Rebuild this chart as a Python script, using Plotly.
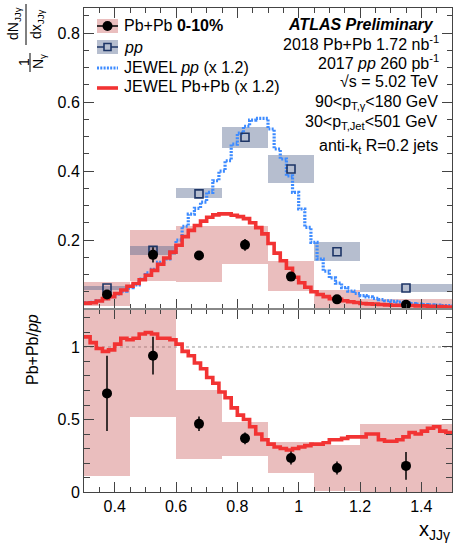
import numpy as np
import plotly.graph_objects as go
from plotly.subplots import make_subplots

# ---- measured x_JJgamma bins ----
bin_lo = [0.30, 0.45, 0.60, 0.75, 0.90, 1.05, 1.20]
bin_hi = [0.45, 0.60, 0.75, 0.90, 1.05, 1.20, 1.50]

# Pb+Pb 0-10% distribution
pbpb_val = [0.042, 0.157, 0.155, 0.186, 0.094, 0.028, 0.012]
pbpb_stat = [0.012, 0.022, 0.013, 0.017, 0.012, 0.006, 0.004]
pbpb_sys_lo = [0.010, 0.082, 0.078, 0.130, 0.052, 0.003, 0.002]
pbpb_sys_hi = [0.079, 0.230, 0.240, 0.242, 0.139, 0.055, 0.028]

# pp distribution
pp_val = [0.061, 0.170, 0.334, 0.498, 0.406, 0.166, 0.061]
pp_sys_lo = [0.055, 0.158, 0.321, 0.468, 0.365, 0.140, 0.050]
pp_sys_hi = [0.067, 0.183, 0.350, 0.527, 0.446, 0.193, 0.072]

# Pb+Pb / pp ratio
ratio_val = [0.68, 0.94, 0.47, 0.37, 0.235, 0.165, 0.18]
ratio_stat = [0.26, 0.13, 0.05, 0.04, 0.045, 0.045, 0.095]
ratio_sys_lo = [0.11, 0.52, 0.23, 0.25, 0.13, 0.01, 0.0]
ratio_sys_hi = [1.30, 1.30, 0.70, 0.485, 0.345, 0.324, 0.47]

# JEWEL predictions (x 1.2), fine binning 0.02 from 0.30 to 1.50
jewel_edges = list(np.round(np.arange(0.30, 1.5001, 0.02), 2))
jewel_pp = [0.018, 0.019, 0.024, 0.030, 0.036, 0.044, 0.052, 0.062, 0.070, 0.087,
            0.105, 0.115, 0.135, 0.145, 0.166, 0.200, 0.240, 0.275, 0.292, 0.310,
            0.338, 0.372, 0.400, 0.430, 0.478, 0.510, 0.530, 0.548, 0.553, 0.553,
            0.522, 0.464, 0.435, 0.386, 0.338, 0.290, 0.237, 0.193, 0.145, 0.110,
            0.090, 0.075, 0.062, 0.052, 0.045, 0.039, 0.035, 0.031, 0.027, 0.024,
            0.022, 0.020, 0.018, 0.016, 0.014, 0.013, 0.012, 0.011, 0.010, 0.010]
jewel_pbpb = [0.017, 0.018, 0.023, 0.030, 0.036, 0.045, 0.055, 0.066, 0.074, 0.085,
              0.098, 0.112, 0.130, 0.148, 0.165, 0.185, 0.210, 0.228, 0.242, 0.255,
              0.266, 0.273, 0.276, 0.276, 0.272, 0.268, 0.262, 0.250, 0.236, 0.218,
              0.190, 0.162, 0.140, 0.118, 0.092, 0.076, 0.063, 0.050, 0.042, 0.036,
              0.030, 0.028, 0.024, 0.021, 0.019, 0.016, 0.015, 0.014, 0.013, 0.012,
              0.011, 0.011, 0.010, 0.010, 0.009, 0.009, 0.008, 0.007, 0.007, 0.006]
jewel_ratio = [1.07, 1.03, 0.99, 0.97, 0.98, 1.02, 1.06, 1.05, 1.06, 1.09,
               1.10, 1.09, 1.06, 1.06, 1.05, 1.02, 0.97, 0.94, 0.89, 0.85,
               0.79, 0.75, 0.69, 0.65, 0.58, 0.53, 0.50, 0.45, 0.40, 0.36,
               0.33, 0.31, 0.30, 0.29, 0.30, 0.31, 0.32, 0.33, 0.33, 0.34,
               0.36, 0.36, 0.37, 0.38, 0.38, 0.38, 0.40, 0.40, 0.36, 0.35,
               0.35, 0.36, 0.38, 0.41, 0.40, 0.42, 0.44, 0.45, 0.42, 0.41]

FONT = "Liberation Sans, Arial, Helvetica, sans-serif"
PINK = "rgba(205,100,100,0.42)"
GREYBLUE = "rgba(80,100,140,0.42)"
RED = "#f23333"
BLUE = "#3d8bff"
NAVY = "#1d3566"

centers = [(a + b) / 2 for a, b in zip(bin_lo, bin_hi)]
widths = [b - a for a, b in zip(bin_lo, bin_hi)]

fig = make_subplots(rows=2, cols=1, shared_xaxes=True, vertical_spacing=0)


def boxes(lo, hi, color, row):
    fig.add_trace(go.Bar(x=centers, width=widths, base=lo,
                         y=[h - l for l, h in zip(lo, hi)],
                         marker=dict(color=color, line=dict(width=0)),
                         showlegend=False, hoverinfo="skip"), row=row, col=1)


def step(vals, **line):
    return go.Scatter(x=jewel_edges, y=list(vals) + [vals[-1]], mode="lines",
                      line=dict(shape="hv", **line), showlegend=False)


# top panel
boxes(pbpb_sys_lo, pbpb_sys_hi, PINK, 1)
boxes(pp_sys_lo, pp_sys_hi, GREYBLUE, 1)
fig.add_trace(step(jewel_pp, color=BLUE, width=3.2, dash="2px,1.3px"), row=1, col=1)
fig.add_trace(step(jewel_pbpb, color=RED, width=3.6), row=1, col=1)
fig.add_trace(go.Scatter(x=centers, y=pp_val, mode="markers",
                         marker=dict(symbol="square-open", size=8, color=NAVY,
                                     line=dict(width=1.6, color=NAVY)),
                         showlegend=False), row=1, col=1)
fig.add_trace(go.Scatter(x=centers, y=pbpb_val, mode="markers",
                         error_y=dict(type="data", array=pbpb_stat, color="black",
                                      thickness=1.5, width=0),
                         marker=dict(symbol="circle", size=10, color="black"),
                         showlegend=False), row=1, col=1)

# bottom panel
boxes(ratio_sys_lo, ratio_sys_hi, PINK, 2)
fig.add_trace(step(jewel_ratio, color=RED, width=3.6), row=2, col=1)
fig.add_trace(go.Scatter(x=centers, y=ratio_val, mode="markers",
                         error_y=dict(type="data", array=ratio_stat, color="black",
                                      thickness=1.5, width=0),
                         marker=dict(symbol="circle", size=10, color="black"),
                         showlegend=False), row=2, col=1)

# frame geometry (pixels of the 453x546 page)
L, R, T, B = 84, 452, 8, 492
SPLIT = 309
W, H = R - L, B - T


def px(X):
    return (X - L) / W


def py(Y):
    return (B - Y) / H


axis_common = dict(showline=True, linecolor="#444", linewidth=1, mirror="ticks",
                   ticks="inside", tickcolor="#444", showgrid=False, zeroline=False,
                   tickfont=dict(family=FONT, size=16, color="black"))

fig.update_xaxes(range=[0.3, 1.5], dtick=0.2, tick0=0, ticklen=10,
                 minor=dict(dtick=0.05, ticklen=5, ticks="inside", tickcolor="#444"),
                 **axis_common)
fig.update_xaxes(showticklabels=False, row=1, col=1)
fig.update_yaxes(range=[0, 0.873], dtick=0.2, tick0=0, ticklen=10,
                 minor=dict(dtick=0.05, ticklen=5, ticks="inside", tickcolor="#444"),
                 tickvals=[0.2, 0.4, 0.6, 0.8], domain=[py(SPLIT), 1],
                 row=1, col=1, **axis_common)
fig.update_yaxes(range=[0, 1.262], tickvals=[0, 0.5, 1], ticklen=10,
                 minor=dict(dtick=0.1, ticklen=6, ticks="inside", tickcolor="#444"),
                 domain=[0, py(SPLIT)], row=2, col=1, **axis_common)

shapes = [
    # unity reference in ratio panel
    dict(type="line", xref="x2 domain", yref="y2", x0=0, x1=1, y0=1, y1=1,
         line=dict(color="#999", width=1, dash="dot"), layer="below"),
    # separator between the panels
    dict(type="line", xref="paper", yref="paper", x0=0, x1=1, y0=py(SPLIT), y1=py(SPLIT),
         line=dict(color="#888", width=2)),
]

# legend markers
shapes += [
    dict(type="rect", xref="paper", yref="paper", x0=px(97), x1=px(118), y0=py(33), y1=py(19),
         fillcolor=PINK, line=dict(width=0)),
    dict(type="line", xref="paper", yref="paper", x0=px(97), x1=px(118), y0=py(26), y1=py(26),
         line=dict(color="black", width=1.5)),
    dict(type="circle", xref="paper", yref="paper", x0=px(102.5), x1=px(112.5), y0=py(31), y1=py(21),
         fillcolor="black", line=dict(color="black", width=0)),
    dict(type="rect", xref="paper", yref="paper", x0=px(97), x1=px(118), y0=py(54), y1=py(40),
         fillcolor=GREYBLUE, line=dict(width=0)),
    dict(type="line", xref="paper", yref="paper", x0=px(97), x1=px(118), y0=py(47), y1=py(47),
         line=dict(color=NAVY, width=1.5)),
    dict(type="rect", xref="paper", yref="paper", x0=px(104), x1=px(111), y0=py(50.5), y1=py(43.5),
         fillcolor="rgba(181,190,207,1)", line=dict(color=NAVY, width=1.6)),
    dict(type="line", xref="paper", yref="paper", x0=px(97), x1=px(118), y0=py(68), y1=py(68),
         line=dict(color=BLUE, width=3.2, dash="2px,1.3px")),
    dict(type="line", xref="paper", yref="paper", x0=px(97), x1=px(118), y0=py(88), y1=py(88),
         line=dict(color=RED, width=3.6)),
]

# y-axis title fraction bars
shapes += [
    dict(type="line", xref="paper", yref="paper", x0=px(26), x1=px(26), y0=py(4), y1=py(45),
         line=dict(color="black", width=1)),
    dict(type="line", xref="paper", yref="paper", x0=px(30), x1=px(30), y0=py(53), y1=py(72),
         line=dict(color="black", width=1)),
]


def text(X, Y, s, size=16, xanchor="left", angle=0):
    return dict(xref="paper", yref="paper", x=px(X), y=py(Y), text=s, showarrow=False,
                xanchor=xanchor, yanchor="middle", textangle=angle,
                font=dict(family=FONT, size=size, color="black"))


annotations = [
    text(122, 26, "Pb+Pb <b>0-10%</b>"),
    text(122, 47, "<i>pp</i>"),
    text(122, 67, "JEWEL <i>pp</i> (x 1.2)"),
    text(122, 87, "JEWEL Pb+Pb (x 1.2)"),
    text(436, 24, "<b><i>ATLAS Preliminary</i></b>", xanchor="right"),
    text(441, 43, "2018 Pb+Pb 1.72 nb<sup>-1</sup>", xanchor="right"),
    text(441, 62, "2017 <i>pp</i> 260 pb<sup>-1</sup>", xanchor="right"),
    text(440, 81, "√s = 5.02 TeV", xanchor="right"),
    text(440, 102, "90&lt;p<sub>T,γ</sub>&lt;180 GeV", xanchor="right"),
    text(440, 122, "30&lt;p<sub>T,Jet</sub>&lt;501 GeV", xanchor="right"),
    text(440, 146, "anti-k<sub>t</sub> R=0.2 jets", xanchor="right"),
    # y titles
    text(14, 24, "dN<sub>JJγ</sub>", size=14, xanchor="center", angle=-90),
    text(37, 24, "dx<sub>JJγ</sub>", size=14, xanchor="center", angle=-90),
    text(24, 62, "1", size=14, xanchor="center", angle=-90),
    text(39, 62, "N<sub>γ</sub>", size=14, xanchor="center", angle=-90),
    text(32, 350, "Pb+Pb/<i>pp</i>", size=16, xanchor="center", angle=-90),
    # x title
    text(452, 530, "x<sub>JJγ</sub>", size=20, xanchor="right"),
]

fig.update_layout(
    width=453, height=546,
    margin=dict(l=L, r=453 - R, t=T, b=546 - B),
    paper_bgcolor="white", plot_bgcolor="white",
    barmode="overlay", bargap=0,
    showlegend=False,
    shapes=shapes, annotations=annotations,
    font=dict(family=FONT, size=16, color="black"),
)

fig.write_html("out.html")
